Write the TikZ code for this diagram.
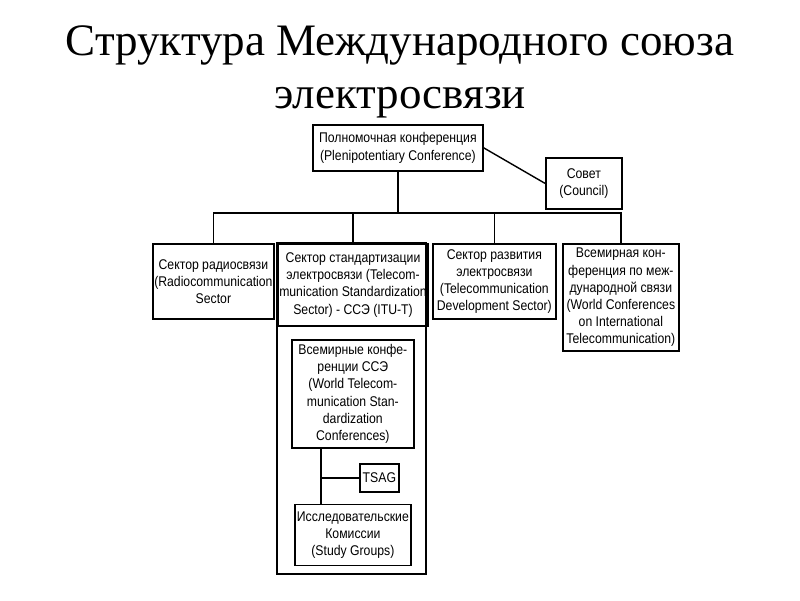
\documentclass[tikz,border=0pt]{standalone}
\usepackage{fontspec}
\usepackage{tikz}
\usetikzlibrary{positioning}
\newfontfamily\titlefont{Liberation Serif}
\newfontfamily\boxfont[FakeStretch=0.87]{Liberation Sans}
\tikzstyle{titletext} = [font=\titlefont\fontsize{32}{38}\selectfont, inner sep=0pt, anchor=base]
\tikzstyle{unit}      = [rectangle, draw=black, line width=1.2pt, fill=white, align=center,
                         inner sep=1pt, anchor=north west, font=\boxfont\fontsize{10}{12.2}\selectfont]
\tikzstyle{link}      = [line width=1pt]

\begin{document}
\begin{tikzpicture}[x=0.025cm, y=-0.025cm]
  \useasboundingbox (0,0) rectangle (800,600);

  % title
  \node (title1) [titletext] at (400,55)  {Структура Международного союза};
  \node (title2) [titletext] at (400,108) {электросвязи};

  % top level
  \node (plen)    [unit, minimum width=4.25cm, minimum height=1.15cm] at (312,124)
        {Полномочная конференция\\(Plenipotentiary Conference)};
  \node (council) [unit, minimum width=1.9cm, minimum height=1.275cm] at (545,157)
        {Совет\\(Council)};

  % sectors
  \node (radio)   [unit, minimum width=2.975cm, minimum height=1.875cm] at (152,243)
        {Сектор радиосвязи\\(Radiocommunication\\Sector};
  \node (stdhead) [unit, minimum width=3.725cm, minimum height=2.05cm] at (277,243)
        {Сектор стандартизации\\электросвязи (Telecom-\\munication Standardization\\Sector) - ССЭ (ITU-T)};
  \node (dev)     [unit, minimum width=3.075cm, minimum height=1.875cm] at (432,243)
        {Сектор развития\\электросвязи\\(Telecommunication\\Development Sector)};
  \node (wcit)    [unit, minimum width=2.9cm, minimum height=2.675cm] at (562,243)
        {Всемирная кон-\\ференция по меж-\\дународной связи\\(World Conferences\\on International\\Telecommunication)};

  % inside ITU-T
  \coordinate (stdend) at (426,574);
  \draw [line width=1.2pt] (stdhead.north west) rectangle (stdend);
  \node (wtsc) [unit, minimum width=3.05cm, minimum height=2.7cm] at (291,339)
        {Всемирные конфе-\\ренции ССЭ\\(World Telecom-\\munication Stan-\\dardization\\Conferences)};
  \node (sg)   [unit, minimum width=2.9cm, minimum height=1.525cm, below=1.375cm of wtsc]
        {Исследовательские\\Комиссии\\(Study Groups)};
  \coordinate (jx) at (321,478);
  \node (tsag) [unit, minimum width=0.975cm, minimum height=0.7cm, right=0.95cm of jx] {TSAG};

  % connectors
  \coordinate (bus) at (397,213);
  \draw [link] (plen.east) -- (council.west);
  \draw [link] (plen.south) -- (plen.south |- bus);
  \draw [link] (radio.north) |- (wcit.north |- bus) -- (wcit.north);
  \draw [link] (stdhead.north) -- (stdhead.north |- bus);
  \draw [link] (dev.north) -- (dev.north |- bus);
  \draw [link] (wtsc.south -| jx) -- (sg.north -| jx);
  \draw [link] (jx) -- (tsag.west);
\end{tikzpicture}
\end{document}
